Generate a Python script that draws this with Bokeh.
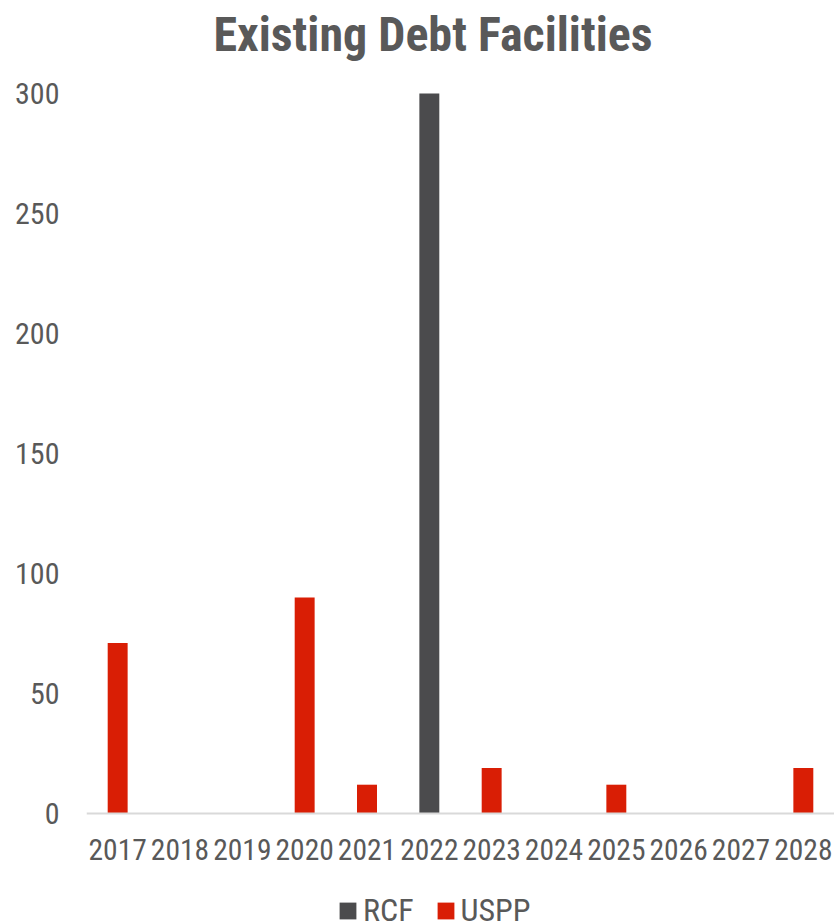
from bokeh.plotting import figure
from bokeh.models import (ColumnDataSource, FactorRange, Range1d, FixedTicker,
                          Legend, LegendItem, Label, CategoricalAxis)
from bokeh.embed import file_html
from bokeh.resources import INLINE

years = ["2017", "2018", "2019", "2020", "2021", "2022",
         "2023", "2024", "2025", "2026", "2027", "2028"]
rcf = [0, 0, 0, 0, 0, 300, 0, 0, 0, 0, 0, 0]
uspp = [71, 0, 0, 90, 12, 0, 19, 0, 12, 0, 0, 19]
y_ticks = [0, 50, 100, 150, 200, 250, 300]
series_names = ["RCF", "USPP"]
chart_title = "Existing Debt Facilities"

FONT = "Roboto Condensed"
TXT = "#595959"
GRAY = "#4b4b4d"
RED = "#d91e05"

src = ColumnDataSource(dict(year=years, rcf=rcf, uspp=uspp))

# frame covers the full height; value axis 0..300 spans px 93..813 of the canvas
p = figure(width=834, height=921, output_backend="svg", toolbar_location=None,
           x_range=FactorRange(*years, range_padding=0),
           y_range=Range1d(-45, 300 + 93 / 2.4),
           x_axis_type=None,
           min_border_left=86, min_border_right=0,
           min_border_top=0, min_border_bottom=0)
p.outline_line_color = None
p.xgrid.visible = False
p.ygrid.visible = False

r1 = p.vbar(x="year", top="rcf", width=0.32, source=src,
            fill_color=GRAY, line_color=None)
r2 = p.vbar(x="year", top="uspp", width=0.32, source=src,
            fill_color=RED, line_color=None)

p.yaxis.ticker = FixedTicker(ticks=y_ticks)
p.yaxis.axis_line_color = None
p.yaxis.major_tick_line_color = None
p.yaxis.major_tick_out = 0
p.yaxis.minor_tick_line_color = None
p.yaxis.major_label_standoff = 27
p.yaxis.major_label_text_font = FONT
p.yaxis.major_label_text_font_size = "30px"
p.yaxis.major_label_text_color = TXT

xaxis = CategoricalAxis(fixed_location=0,
                        axis_line_color="#d9d9d9", axis_line_width=2,
                        major_tick_line_color=None, major_tick_out=0,
                        minor_tick_line_color=None,
                        major_label_standoff=25,
                        major_label_text_font=FONT,
                        major_label_text_font_size="29.5px",
                        major_label_text_color=TXT)
p.add_layout(xaxis, "below")

title = Label(x=346.5 / 62.333, y=887, x_units="data", y_units="screen",
              text=chart_title, text_align="center", text_baseline="alphabetic",
              text_font=FONT, text_font_style="bold", text_font_size="48px",
              text_color=TXT)
p.add_layout(title)

legend = Legend(items=[LegendItem(label=series_names[0], renderers=[r1]),
                       LegendItem(label=series_names[1], renderers=[r2])],
                orientation="horizontal", location=(251, -8),
                glyph_width=21, glyph_height=21, label_standoff=5, spacing=21,
                padding=0, margin=0, border_line_color=None,
                background_fill_alpha=0,
                label_text_font=FONT, label_text_font_size="32px",
                label_text_color=TXT)
p.add_layout(legend)

open("out.html", "w").write(file_html(p, INLINE))
